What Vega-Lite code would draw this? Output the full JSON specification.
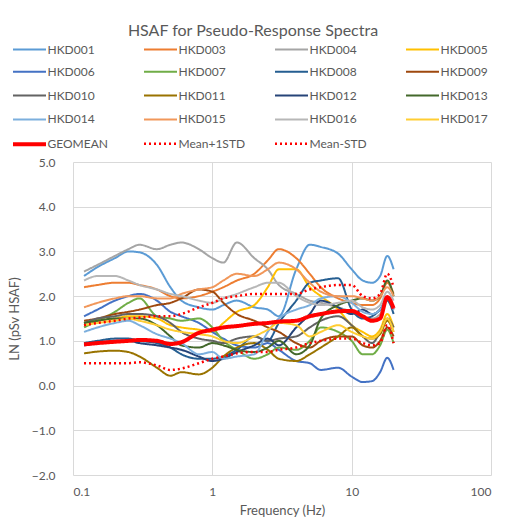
{
"$schema": "https://vega.github.io/schema/vega-lite/v6.json",
"width": 418, "height": 313,
"autosize": {"type": "none"},
"padding": {"left": 73, "top": 162, "right": 26, "bottom": 49},
"background": "white",
"title": {"text": "HSAF for Pseudo-Response Spectra", "fontSize": 16, "fontWeight": "normal", "color": "#595959", "anchor": "middle", "frame": "group", "dx": -29, "offset": -2},
"data": {"values": [
{"s":"HKD001","f":0.12,"v":2.45},{"s":"HKD001","f":0.15,"v":2.65},{"s":"HKD001","f":0.2,"v":2.85},{"s":"HKD001","f":0.25,"v":3.0},{"s":"HKD001","f":0.3,"v":2.98},{"s":"HKD001","f":0.4,"v":2.7},{"s":"HKD001","f":0.5,"v":2.2},{"s":"HKD001","f":0.6,"v":1.9},{"s":"HKD001","f":0.8,"v":1.75},{"s":"HKD001","f":1,"v":1.7},{"s":"HKD001","f":1.2,"v":1.8},{"s":"HKD001","f":1.5,"v":1.9},{"s":"HKD001","f":2,"v":1.75},{"s":"HKD001","f":2.5,"v":1.7},{"s":"HKD001","f":3,"v":1.55},{"s":"HKD001","f":4,"v":2.6},{"s":"HKD001","f":5,"v":3.15},{"s":"HKD001","f":6,"v":3.1},{"s":"HKD001","f":8,"v":2.95},{"s":"HKD001","f":10,"v":2.6},{"s":"HKD001","f":12,"v":2.35},{"s":"HKD001","f":14,"v":2.3},{"s":"HKD001","f":16,"v":2.45},{"s":"HKD001","f":18,"v":2.9},{"s":"HKD001","f":20,"v":2.6},
{"s":"HKD003","f":0.12,"v":2.2},{"s":"HKD003","f":0.15,"v":2.25},{"s":"HKD003","f":0.2,"v":2.3},{"s":"HKD003","f":0.25,"v":2.3},{"s":"HKD003","f":0.3,"v":2.25},{"s":"HKD003","f":0.4,"v":2.15},{"s":"HKD003","f":0.5,"v":2.0},{"s":"HKD003","f":0.6,"v":1.95},{"s":"HKD003","f":0.8,"v":2.0},{"s":"HKD003","f":1,"v":2.1},{"s":"HKD003","f":1.2,"v":2.2},{"s":"HKD003","f":1.5,"v":2.35},{"s":"HKD003","f":2,"v":2.5},{"s":"HKD003","f":2.5,"v":2.8},{"s":"HKD003","f":3,"v":3.05},{"s":"HKD003","f":4,"v":2.85},{"s":"HKD003","f":5,"v":2.5},{"s":"HKD003","f":6,"v":2.2},{"s":"HKD003","f":8,"v":1.95},{"s":"HKD003","f":10,"v":1.85},{"s":"HKD003","f":12,"v":1.8},{"s":"HKD003","f":14,"v":1.8},{"s":"HKD003","f":16,"v":1.95},{"s":"HKD003","f":18,"v":2.3},{"s":"HKD003","f":20,"v":2.05},
{"s":"HKD004","f":0.12,"v":2.55},{"s":"HKD004","f":0.15,"v":2.7},{"s":"HKD004","f":0.2,"v":2.9},{"s":"HKD004","f":0.25,"v":3.05},{"s":"HKD004","f":0.3,"v":3.15},{"s":"HKD004","f":0.4,"v":3.05},{"s":"HKD004","f":0.5,"v":3.15},{"s":"HKD004","f":0.6,"v":3.2},{"s":"HKD004","f":0.8,"v":3.05},{"s":"HKD004","f":1,"v":2.85},{"s":"HKD004","f":1.2,"v":2.75},{"s":"HKD004","f":1.5,"v":3.2},{"s":"HKD004","f":2,"v":2.85},{"s":"HKD004","f":2.5,"v":2.6},{"s":"HKD004","f":3,"v":2.25},{"s":"HKD004","f":4,"v":2.05},{"s":"HKD004","f":5,"v":1.9},{"s":"HKD004","f":6,"v":1.85},{"s":"HKD004","f":8,"v":1.75},{"s":"HKD004","f":10,"v":1.65},{"s":"HKD004","f":12,"v":1.55},{"s":"HKD004","f":14,"v":1.5},{"s":"HKD004","f":16,"v":1.6},{"s":"HKD004","f":18,"v":1.95},{"s":"HKD004","f":20,"v":1.7},
{"s":"HKD005","f":0.12,"v":1.4},{"s":"HKD005","f":0.15,"v":1.45},{"s":"HKD005","f":0.2,"v":1.5},{"s":"HKD005","f":0.25,"v":1.55},{"s":"HKD005","f":0.3,"v":1.55},{"s":"HKD005","f":0.4,"v":1.5},{"s":"HKD005","f":0.5,"v":1.35},{"s":"HKD005","f":0.6,"v":1.3},{"s":"HKD005","f":0.8,"v":1.25},{"s":"HKD005","f":1,"v":1.2},{"s":"HKD005","f":1.2,"v":1.4},{"s":"HKD005","f":1.5,"v":1.65},{"s":"HKD005","f":2,"v":1.8},{"s":"HKD005","f":2.5,"v":2.2},{"s":"HKD005","f":3,"v":2.6},{"s":"HKD005","f":4,"v":2.6},{"s":"HKD005","f":5,"v":2.2},{"s":"HKD005","f":6,"v":2.0},{"s":"HKD005","f":8,"v":1.7},{"s":"HKD005","f":10,"v":1.35},{"s":"HKD005","f":12,"v":1.2},{"s":"HKD005","f":14,"v":1.1},{"s":"HKD005","f":16,"v":1.25},{"s":"HKD005","f":18,"v":1.6},{"s":"HKD005","f":20,"v":1.3},
{"s":"HKD006","f":0.12,"v":1.55},{"s":"HKD006","f":0.15,"v":1.7},{"s":"HKD006","f":0.2,"v":1.9},{"s":"HKD006","f":0.25,"v":2.0},{"s":"HKD006","f":0.3,"v":2.05},{"s":"HKD006","f":0.4,"v":1.9},{"s":"HKD006","f":0.5,"v":1.65},{"s":"HKD006","f":0.6,"v":1.55},{"s":"HKD006","f":0.8,"v":1.4},{"s":"HKD006","f":1,"v":1.2},{"s":"HKD006","f":1.2,"v":1.05},{"s":"HKD006","f":1.5,"v":0.9},{"s":"HKD006","f":2,"v":0.85},{"s":"HKD006","f":2.5,"v":0.95},{"s":"HKD006","f":3,"v":0.8},{"s":"HKD006","f":4,"v":0.55},{"s":"HKD006","f":5,"v":0.5},{"s":"HKD006","f":6,"v":0.35},{"s":"HKD006","f":8,"v":0.4},{"s":"HKD006","f":10,"v":0.2},{"s":"HKD006","f":12,"v":0.08},{"s":"HKD006","f":14,"v":0.1},{"s":"HKD006","f":16,"v":0.3},{"s":"HKD006","f":18,"v":0.62},{"s":"HKD006","f":20,"v":0.35},
{"s":"HKD007","f":0.12,"v":1.3},{"s":"HKD007","f":0.15,"v":1.45},{"s":"HKD007","f":0.2,"v":1.65},{"s":"HKD007","f":0.25,"v":1.85},{"s":"HKD007","f":0.3,"v":1.95},{"s":"HKD007","f":0.4,"v":1.55},{"s":"HKD007","f":0.5,"v":1.5},{"s":"HKD007","f":0.6,"v":1.45},{"s":"HKD007","f":0.8,"v":1.5},{"s":"HKD007","f":1,"v":1.3},{"s":"HKD007","f":1.2,"v":1.0},{"s":"HKD007","f":1.5,"v":0.8},{"s":"HKD007","f":2,"v":0.6},{"s":"HKD007","f":2.5,"v":0.7},{"s":"HKD007","f":3,"v":0.85},{"s":"HKD007","f":4,"v":0.8},{"s":"HKD007","f":5,"v":1.0},{"s":"HKD007","f":6,"v":1.3},{"s":"HKD007","f":8,"v":1.2},{"s":"HKD007","f":10,"v":1.0},{"s":"HKD007","f":12,"v":0.7},{"s":"HKD007","f":14,"v":0.7},{"s":"HKD007","f":16,"v":0.9},{"s":"HKD007","f":18,"v":1.25},{"s":"HKD007","f":20,"v":0.95},
{"s":"HKD008","f":0.12,"v":0.95},{"s":"HKD008","f":0.15,"v":1.0},{"s":"HKD008","f":0.2,"v":1.05},{"s":"HKD008","f":0.25,"v":1.05},{"s":"HKD008","f":0.3,"v":1.0},{"s":"HKD008","f":0.4,"v":0.95},{"s":"HKD008","f":0.5,"v":0.85},{"s":"HKD008","f":0.6,"v":0.7},{"s":"HKD008","f":0.8,"v":0.6},{"s":"HKD008","f":1,"v":0.6},{"s":"HKD008","f":1.2,"v":0.65},{"s":"HKD008","f":1.5,"v":0.8},{"s":"HKD008","f":2,"v":1.1},{"s":"HKD008","f":2.5,"v":1.0},{"s":"HKD008","f":3,"v":1.4},{"s":"HKD008","f":4,"v":1.9},{"s":"HKD008","f":5,"v":2.3},{"s":"HKD008","f":6,"v":2.35},{"s":"HKD008","f":8,"v":2.4},{"s":"HKD008","f":10,"v":1.7},{"s":"HKD008","f":12,"v":1.5},{"s":"HKD008","f":14,"v":1.55},{"s":"HKD008","f":16,"v":1.7},{"s":"HKD008","f":18,"v":1.9},{"s":"HKD008","f":20,"v":1.6},
{"s":"HKD009","f":0.12,"v":1.45},{"s":"HKD009","f":0.15,"v":1.5},{"s":"HKD009","f":0.2,"v":1.6},{"s":"HKD009","f":0.25,"v":1.65},{"s":"HKD009","f":0.3,"v":1.7},{"s":"HKD009","f":0.4,"v":1.8},{"s":"HKD009","f":0.5,"v":1.85},{"s":"HKD009","f":0.6,"v":1.95},{"s":"HKD009","f":0.8,"v":2.15},{"s":"HKD009","f":1,"v":2.1},{"s":"HKD009","f":1.2,"v":1.85},{"s":"HKD009","f":1.5,"v":1.6},{"s":"HKD009","f":2,"v":1.45},{"s":"HKD009","f":2.5,"v":1.3},{"s":"HKD009","f":3,"v":1.2},{"s":"HKD009","f":4,"v":0.95},{"s":"HKD009","f":5,"v":0.85},{"s":"HKD009","f":6,"v":1.0},{"s":"HKD009","f":8,"v":1.1},{"s":"HKD009","f":10,"v":1.1},{"s":"HKD009","f":12,"v":0.9},{"s":"HKD009","f":14,"v":0.85},{"s":"HKD009","f":16,"v":1.0},{"s":"HKD009","f":18,"v":1.3},{"s":"HKD009","f":20,"v":1.1},
{"s":"HKD010","f":0.12,"v":1.4},{"s":"HKD010","f":0.15,"v":1.5},{"s":"HKD010","f":0.2,"v":1.55},{"s":"HKD010","f":0.25,"v":1.6},{"s":"HKD010","f":0.3,"v":1.6},{"s":"HKD010","f":0.4,"v":1.55},{"s":"HKD010","f":0.5,"v":1.4},{"s":"HKD010","f":0.6,"v":1.2},{"s":"HKD010","f":0.8,"v":1.05},{"s":"HKD010","f":1,"v":1.0},{"s":"HKD010","f":1.2,"v":0.95},{"s":"HKD010","f":1.5,"v":1.05},{"s":"HKD010","f":2,"v":1.1},{"s":"HKD010","f":2.5,"v":1.0},{"s":"HKD010","f":3,"v":1.05},{"s":"HKD010","f":4,"v":1.1},{"s":"HKD010","f":5,"v":1.3},{"s":"HKD010","f":6,"v":1.45},{"s":"HKD010","f":8,"v":1.55},{"s":"HKD010","f":10,"v":1.35},{"s":"HKD010","f":12,"v":1.1},{"s":"HKD010","f":14,"v":0.95},{"s":"HKD010","f":16,"v":1.2},{"s":"HKD010","f":18,"v":1.5},{"s":"HKD010","f":20,"v":1.3},
{"s":"HKD011","f":0.12,"v":0.72},{"s":"HKD011","f":0.15,"v":0.76},{"s":"HKD011","f":0.2,"v":0.78},{"s":"HKD011","f":0.25,"v":0.75},{"s":"HKD011","f":0.3,"v":0.65},{"s":"HKD011","f":0.4,"v":0.4},{"s":"HKD011","f":0.5,"v":0.22},{"s":"HKD011","f":0.6,"v":0.3},{"s":"HKD011","f":0.8,"v":0.25},{"s":"HKD011","f":1,"v":0.4},{"s":"HKD011","f":1.2,"v":0.65},{"s":"HKD011","f":1.5,"v":0.85},{"s":"HKD011","f":2,"v":0.95},{"s":"HKD011","f":2.5,"v":0.8},{"s":"HKD011","f":3,"v":0.6},{"s":"HKD011","f":4,"v":0.55},{"s":"HKD011","f":5,"v":0.7},{"s":"HKD011","f":6,"v":0.85},{"s":"HKD011","f":8,"v":1.1},{"s":"HKD011","f":10,"v":1.3},{"s":"HKD011","f":12,"v":1.1},{"s":"HKD011","f":14,"v":1.05},{"s":"HKD011","f":16,"v":1.15},{"s":"HKD011","f":18,"v":1.45},{"s":"HKD011","f":20,"v":1.2},
{"s":"HKD012","f":0.12,"v":0.9},{"s":"HKD012","f":0.15,"v":0.95},{"s":"HKD012","f":0.2,"v":1.0},{"s":"HKD012","f":0.25,"v":1.0},{"s":"HKD012","f":0.3,"v":0.95},{"s":"HKD012","f":0.4,"v":0.9},{"s":"HKD012","f":0.5,"v":0.85},{"s":"HKD012","f":0.6,"v":0.8},{"s":"HKD012","f":0.8,"v":0.65},{"s":"HKD012","f":1,"v":0.55},{"s":"HKD012","f":1.2,"v":0.6},{"s":"HKD012","f":1.5,"v":0.75},{"s":"HKD012","f":2,"v":0.9},{"s":"HKD012","f":2.5,"v":1.05},{"s":"HKD012","f":3,"v":0.9},{"s":"HKD012","f":4,"v":1.3},{"s":"HKD012","f":5,"v":1.6},{"s":"HKD012","f":6,"v":1.9},{"s":"HKD012","f":8,"v":1.75},{"s":"HKD012","f":10,"v":1.6},{"s":"HKD012","f":12,"v":1.7},{"s":"HKD012","f":14,"v":1.6},{"s":"HKD012","f":16,"v":1.7},{"s":"HKD012","f":18,"v":1.95},{"s":"HKD012","f":20,"v":1.75},
{"s":"HKD013","f":0.12,"v":1.4},{"s":"HKD013","f":0.15,"v":1.45},{"s":"HKD013","f":0.2,"v":1.5},{"s":"HKD013","f":0.25,"v":1.5},{"s":"HKD013","f":0.3,"v":1.5},{"s":"HKD013","f":0.4,"v":1.35},{"s":"HKD013","f":0.5,"v":1.1},{"s":"HKD013","f":0.6,"v":0.9},{"s":"HKD013","f":0.8,"v":0.85},{"s":"HKD013","f":1,"v":0.95},{"s":"HKD013","f":1.2,"v":0.9},{"s":"HKD013","f":1.5,"v":0.8},{"s":"HKD013","f":2,"v":0.75},{"s":"HKD013","f":2.5,"v":0.85},{"s":"HKD013","f":3,"v":1.0},{"s":"HKD013","f":4,"v":0.7},{"s":"HKD013","f":5,"v":0.9},{"s":"HKD013","f":6,"v":1.5},{"s":"HKD013","f":8,"v":1.8},{"s":"HKD013","f":10,"v":1.9},{"s":"HKD013","f":12,"v":1.95},{"s":"HKD013","f":14,"v":1.9},{"s":"HKD013","f":16,"v":2.0},{"s":"HKD013","f":18,"v":2.35},{"s":"HKD013","f":20,"v":2.0},
{"s":"HKD014","f":0.12,"v":1.2},{"s":"HKD014","f":0.15,"v":1.3},{"s":"HKD014","f":0.2,"v":1.4},{"s":"HKD014","f":0.25,"v":1.45},{"s":"HKD014","f":0.3,"v":1.35},{"s":"HKD014","f":0.4,"v":1.15},{"s":"HKD014","f":0.5,"v":1.05},{"s":"HKD014","f":0.6,"v":0.95},{"s":"HKD014","f":0.8,"v":0.7},{"s":"HKD014","f":1,"v":0.75},{"s":"HKD014","f":1.2,"v":0.6},{"s":"HKD014","f":1.5,"v":0.65},{"s":"HKD014","f":2,"v":0.7},{"s":"HKD014","f":2.5,"v":1.2},{"s":"HKD014","f":3,"v":1.5},{"s":"HKD014","f":4,"v":1.7},{"s":"HKD014","f":5,"v":1.8},{"s":"HKD014","f":6,"v":1.95},{"s":"HKD014","f":8,"v":2.0},{"s":"HKD014","f":10,"v":1.85},{"s":"HKD014","f":12,"v":1.65},{"s":"HKD014","f":14,"v":1.6},{"s":"HKD014","f":16,"v":1.7},{"s":"HKD014","f":18,"v":1.95},{"s":"HKD014","f":20,"v":1.7},
{"s":"HKD015","f":0.12,"v":1.75},{"s":"HKD015","f":0.15,"v":1.85},{"s":"HKD015","f":0.2,"v":1.95},{"s":"HKD015","f":0.25,"v":2.0},{"s":"HKD015","f":0.3,"v":2.0},{"s":"HKD015","f":0.4,"v":1.95},{"s":"HKD015","f":0.5,"v":1.95},{"s":"HKD015","f":0.6,"v":2.05},{"s":"HKD015","f":0.8,"v":2.15},{"s":"HKD015","f":1,"v":2.2},{"s":"HKD015","f":1.2,"v":2.35},{"s":"HKD015","f":1.5,"v":2.5},{"s":"HKD015","f":2,"v":2.45},{"s":"HKD015","f":2.5,"v":2.6},{"s":"HKD015","f":3,"v":2.75},{"s":"HKD015","f":4,"v":2.6},{"s":"HKD015","f":5,"v":2.3},{"s":"HKD015","f":6,"v":2.1},{"s":"HKD015","f":8,"v":2.0},{"s":"HKD015","f":10,"v":2.0},{"s":"HKD015","f":12,"v":1.95},{"s":"HKD015","f":14,"v":1.9},{"s":"HKD015","f":16,"v":2.0},{"s":"HKD015","f":18,"v":2.2},{"s":"HKD015","f":20,"v":2.0},
{"s":"HKD016","f":0.12,"v":2.35},{"s":"HKD016","f":0.15,"v":2.45},{"s":"HKD016","f":0.2,"v":2.45},{"s":"HKD016","f":0.25,"v":2.35},{"s":"HKD016","f":0.3,"v":2.25},{"s":"HKD016","f":0.4,"v":2.15},{"s":"HKD016","f":0.5,"v":2.05},{"s":"HKD016","f":0.6,"v":2.0},{"s":"HKD016","f":0.8,"v":1.9},{"s":"HKD016","f":1,"v":1.85},{"s":"HKD016","f":1.2,"v":1.95},{"s":"HKD016","f":1.5,"v":2.05},{"s":"HKD016","f":2,"v":2.2},{"s":"HKD016","f":2.5,"v":2.3},{"s":"HKD016","f":3,"v":2.3},{"s":"HKD016","f":4,"v":2.0},{"s":"HKD016","f":5,"v":1.85},{"s":"HKD016","f":6,"v":1.8},{"s":"HKD016","f":8,"v":1.85},{"s":"HKD016","f":10,"v":1.9},{"s":"HKD016","f":12,"v":1.75},{"s":"HKD016","f":14,"v":1.7},{"s":"HKD016","f":16,"v":1.8},{"s":"HKD016","f":18,"v":2.1},{"s":"HKD016","f":20,"v":1.9},
{"s":"HKD017","f":0.12,"v":1.35},{"s":"HKD017","f":0.15,"v":1.4},{"s":"HKD017","f":0.2,"v":1.45},{"s":"HKD017","f":0.25,"v":1.5},{"s":"HKD017","f":0.3,"v":1.45},{"s":"HKD017","f":0.4,"v":1.35},{"s":"HKD017","f":0.5,"v":1.25},{"s":"HKD017","f":0.6,"v":1.2},{"s":"HKD017","f":0.8,"v":1.15},{"s":"HKD017","f":1,"v":1.1},{"s":"HKD017","f":1.2,"v":1.0},{"s":"HKD017","f":1.5,"v":0.95},{"s":"HKD017","f":2,"v":1.1},{"s":"HKD017","f":2.5,"v":1.25},{"s":"HKD017","f":3,"v":1.4},{"s":"HKD017","f":4,"v":1.35},{"s":"HKD017","f":5,"v":1.1},{"s":"HKD017","f":6,"v":1.2},{"s":"HKD017","f":8,"v":1.35},{"s":"HKD017","f":10,"v":1.2},{"s":"HKD017","f":12,"v":1.1},{"s":"HKD017","f":14,"v":1.05},{"s":"HKD017","f":16,"v":1.2},{"s":"HKD017","f":18,"v":1.5},{"s":"HKD017","f":20,"v":1.2},
{"s":"GEOMEAN","f":0.12,"v":0.92},{"s":"GEOMEAN","f":0.15,"v":0.95},{"s":"GEOMEAN","f":0.2,"v":0.98},{"s":"GEOMEAN","f":0.25,"v":1.0},{"s":"GEOMEAN","f":0.3,"v":1.02},{"s":"GEOMEAN","f":0.4,"v":1.0},{"s":"GEOMEAN","f":0.5,"v":0.93},{"s":"GEOMEAN","f":0.6,"v":0.97},{"s":"GEOMEAN","f":0.8,"v":1.18},{"s":"GEOMEAN","f":1,"v":1.25},{"s":"GEOMEAN","f":1.2,"v":1.3},{"s":"GEOMEAN","f":1.5,"v":1.33},{"s":"GEOMEAN","f":2,"v":1.38},{"s":"GEOMEAN","f":2.5,"v":1.4},{"s":"GEOMEAN","f":3,"v":1.43},{"s":"GEOMEAN","f":4,"v":1.45},{"s":"GEOMEAN","f":5,"v":1.55},{"s":"GEOMEAN","f":6,"v":1.6},{"s":"GEOMEAN","f":8,"v":1.66},{"s":"GEOMEAN","f":10,"v":1.67},{"s":"GEOMEAN","f":12,"v":1.55},{"s":"GEOMEAN","f":14,"v":1.45},{"s":"GEOMEAN","f":16,"v":1.5},{"s":"GEOMEAN","f":18,"v":1.98},{"s":"GEOMEAN","f":20,"v":1.72},
{"s":"Mean+1STD","f":0.12,"v":1.35},{"s":"Mean+1STD","f":0.15,"v":1.4},{"s":"Mean+1STD","f":0.2,"v":1.45},{"s":"Mean+1STD","f":0.25,"v":1.5},{"s":"Mean+1STD","f":0.3,"v":1.52},{"s":"Mean+1STD","f":0.4,"v":1.55},{"s":"Mean+1STD","f":0.5,"v":1.55},{"s":"Mean+1STD","f":0.6,"v":1.6},{"s":"Mean+1STD","f":0.8,"v":1.75},{"s":"Mean+1STD","f":1,"v":1.85},{"s":"Mean+1STD","f":1.2,"v":1.95},{"s":"Mean+1STD","f":1.5,"v":2.0},{"s":"Mean+1STD","f":2,"v":2.05},{"s":"Mean+1STD","f":2.5,"v":2.05},{"s":"Mean+1STD","f":3,"v":2.05},{"s":"Mean+1STD","f":4,"v":2.05},{"s":"Mean+1STD","f":5,"v":2.15},{"s":"Mean+1STD","f":6,"v":2.2},{"s":"Mean+1STD","f":8,"v":2.25},{"s":"Mean+1STD","f":10,"v":2.25},{"s":"Mean+1STD","f":12,"v":2.0},{"s":"Mean+1STD","f":14,"v":1.95},{"s":"Mean+1STD","f":16,"v":2.05},{"s":"Mean+1STD","f":18,"v":2.5},{"s":"Mean+1STD","f":20,"v":2.2},
{"s":"Mean-STD","f":0.12,"v":0.5},{"s":"Mean-STD","f":0.15,"v":0.5},{"s":"Mean-STD","f":0.2,"v":0.5},{"s":"Mean-STD","f":0.25,"v":0.5},{"s":"Mean-STD","f":0.3,"v":0.52},{"s":"Mean-STD","f":0.4,"v":0.45},{"s":"Mean-STD","f":0.5,"v":0.35},{"s":"Mean-STD","f":0.6,"v":0.38},{"s":"Mean-STD","f":0.8,"v":0.5},{"s":"Mean-STD","f":1,"v":0.6},{"s":"Mean-STD","f":1.2,"v":0.65},{"s":"Mean-STD","f":1.5,"v":0.72},{"s":"Mean-STD","f":2,"v":0.75},{"s":"Mean-STD","f":2.5,"v":0.75},{"s":"Mean-STD","f":3,"v":0.8},{"s":"Mean-STD","f":4,"v":0.85},{"s":"Mean-STD","f":5,"v":0.95},{"s":"Mean-STD","f":6,"v":1.0},{"s":"Mean-STD","f":8,"v":1.05},{"s":"Mean-STD","f":10,"v":1.05},{"s":"Mean-STD","f":12,"v":0.95},{"s":"Mean-STD","f":14,"v":0.9},{"s":"Mean-STD","f":16,"v":0.95},{"s":"Mean-STD","f":18,"v":1.35},{"s":"Mean-STD","f":20,"v":0.95}
]},
"mark": {"type": "line", "interpolate": "monotone"},
"encoding": {
  "x": {"field": "f", "type": "quantitative", "scale": {"type": "log", "domain": [0.1, 100]},
        "axis": {"title": "Frequency (Hz)", "values": [0.1, 1, 10, 100], "format": "~g", "labelPadding": 11, "titlePadding": 7, "gridColor": "#D9D9D9"}},
  "y": {"field": "v", "type": "quantitative", "scale": {"domain": [-2, 5], "nice": false},
        "axis": {"title": "LN (pSv HSAF)", "values": [-2, -1, 0, 1, 2, 3, 4, 5], "format": ".1f", "labelPadding": 18, "titlePadding": 10}},
  "color": {"field": "s", "type": "nominal", "title": null,
    "scale": {"domain": ["HKD001","HKD003","HKD004","HKD005","HKD006","HKD007","HKD008","HKD009","HKD010","HKD011","HKD012","HKD013","HKD014","HKD015","HKD016","HKD017","GEOMEAN","Mean+1STD","Mean-STD"],
              "range": ["#5B9BD5","#ED7D31","#A5A5A5","#FFC000","#4472C4","#70AD47","#255E91","#9E480E","#636363","#997300","#264478","#43682B","#7CAFDD","#F1975A","#B7B7B7","#FFCD33","#FF0000","#FF0000","#FF0000"]}},
  "strokeDash": {"field": "s", "type": "nominal", "title": null,
    "scale": {"domain": ["HKD001","HKD003","HKD004","HKD005","HKD006","HKD007","HKD008","HKD009","HKD010","HKD011","HKD012","HKD013","HKD014","HKD015","HKD016","HKD017","GEOMEAN","Mean+1STD","Mean-STD"],
              "range": [[1,0],[1,0],[1,0],[1,0],[1,0],[1,0],[1,0],[1,0],[1,0],[1,0],[1,0],[1,0],[1,0],[1,0],[1,0],[1,0],[1,0],[2,3],[2,3]]}},
  "strokeWidth": {"field": "s", "type": "nominal", "title": null,
    "scale": {"type": "ordinal", "domain": ["HKD001","HKD003","HKD004","HKD005","HKD006","HKD007","HKD008","HKD009","HKD010","HKD011","HKD012","HKD013","HKD014","HKD015","HKD016","HKD017","GEOMEAN","Mean+1STD","Mean-STD"],
              "range": [2,2,2,2,2,2,2,2,2,2,2,2,2,2,2,2,4,2.5,2.5]}}
},
"config": {
  "font": "Lato",
  "view": {"stroke": null},
  "axis": {"labelColor": "#595959", "titleColor": "#595959", "labelFontSize": 12, "titleFontSize": 13, "titleFontWeight": "normal", "gridColor": "#D9D9D9", "gridWidth": 1, "domain": false, "ticks": false},
  "legend": {"orient": "none", "direction": "horizontal", "legendX": -55.5, "legendY": -125, "columns": 4, "gridAlign": "all", "columnPadding": 24, "rowPadding": 3.8,
             "symbolType": "M-1.65,0H1.65", "symbolSize": 400, "labelFontSize": 12, "labelColor": "#595959", "labelOffset": 6, "labelLimit": 200}
}
}
